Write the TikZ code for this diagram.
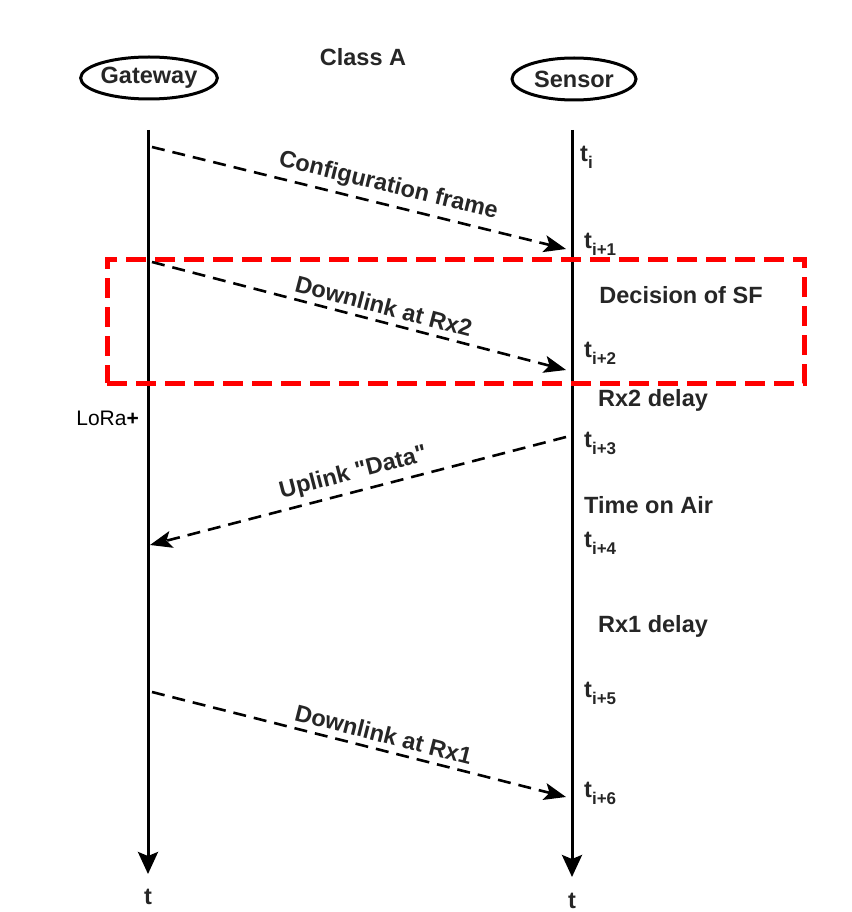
\documentclass[tikz,border=0pt]{standalone}
\usepackage{fontspec}
\setmainfont{Liberation Sans}[Ligatures=TeXOff]
\usetikzlibrary{arrows.meta,shapes.geometric}
\newcommand{\tsub}[1]{t\raisebox{-7pt}{\fontsize{17}{17}\selectfont #1}}
\begin{document}
\begin{tikzpicture}[x=1pt,y=-1pt,
  lbl/.style={font=\fontsize{23.5}{25}\selectfont\bfseries, text=black!85, inner sep=1pt},
  actor/.style={ellipse, draw, line width=3pt, minimum width=124pt, minimum height=42pt, inner sep=0pt, font=\fontsize{23.5}{25}\selectfont\bfseries, text=black!85},
  lifeline/.style={line width=3pt, -{Stealth[length=22pt,width=20pt,inset=4pt]}},
  msg/.style={line width=2.6pt, dash pattern=on 13pt off 8pt, -{Stealth[length=22pt,width=17pt,inset=5pt]}},
  tl/.style={lbl, anchor=west},
  redbox/.style={draw=red, line width=5pt, dash pattern=on 20pt off 9pt}]
\useasboundingbox (0,0) rectangle (851,912);
\fill[white] (0,0) rectangle (851,912);

\node[lbl] (cls) at (363,57) {Class A};
\node[actor] (gw) at (149,78) {Gateway};
\node[actor] (sn) at (574,79) {Sensor};

\coordinate (g0) at (148,130);
\coordinate (gE) at (148,874);
\coordinate (s0) at (572,130);
\coordinate (sE) at (572,877);
\draw[lifeline] (g0) -- (gE);
\draw[lifeline] (s0) -- (sE);
\node[lbl] (tg) at (148,897) {t};
\node[lbl] (ts) at (572,901) {t};

% red highlight
\node[redbox, minimum width=697pt, minimum height=124pt, inner sep=0pt] (hl) at (455.5,321) {};

% sensor time labels
\node[tl] (t0) at (579,157) {\tsub{i}};
\node[tl] (t1) at (583,244) {\tsub{i+1}};
\node[tl] (t2) at (583,353) {\tsub{i+2}};
\node[tl] (t3) at (583,443) {\tsub{i+3}};
\node[tl] (t4) at (583,543) {\tsub{i+4}};
\node[tl] (t5) at (583,693) {\tsub{i+5}};
\node[tl] (t6) at (583,793) {\tsub{i+6}};

\node[lbl] (dsf) at (681,295) {Decision of SF};
\node[tl] (rx2) at (597,400) {Rx2 delay};
\node[tl] (toa) at (583,505) {Time on Air};
\node[tl] (rx1) at (597,626) {Rx1 delay};

\node[font=\fontsize{21}{22}\selectfont, anchor=east, inner sep=0pt] (lora) at (139,418) {LoRa\textbf{+}};

% messages
\coordinate (a1s) at (152,147);
\coordinate (a1e) at (566,249);
\coordinate (a2s) at (152,262);
\coordinate (a2e) at (566,370);
\coordinate (a3s) at (566,437);
\coordinate (a3e) at (150,545);
\coordinate (a4s) at (152,692);
\coordinate (a4e) at (566,797);

\draw[msg] (a1s) -- node[lbl, sloped, above=5pt, pos=0.56] (m1) {Configuration frame} (a1e);
\draw[msg] (a2s) -- node[lbl, sloped, above=5pt, pos=0.55] (m2) {Downlink at Rx2} (a2e);
\draw[msg] (a3s) -- node[lbl, sloped, above=5pt, pos=0.5] (m3) {Uplink "Data"} (a3e);
\draw[msg] (a4s) -- node[lbl, sloped, above=5pt, pos=0.55] (m4) {Downlink at Rx1} (a4e);
\end{tikzpicture}
\end{document}
